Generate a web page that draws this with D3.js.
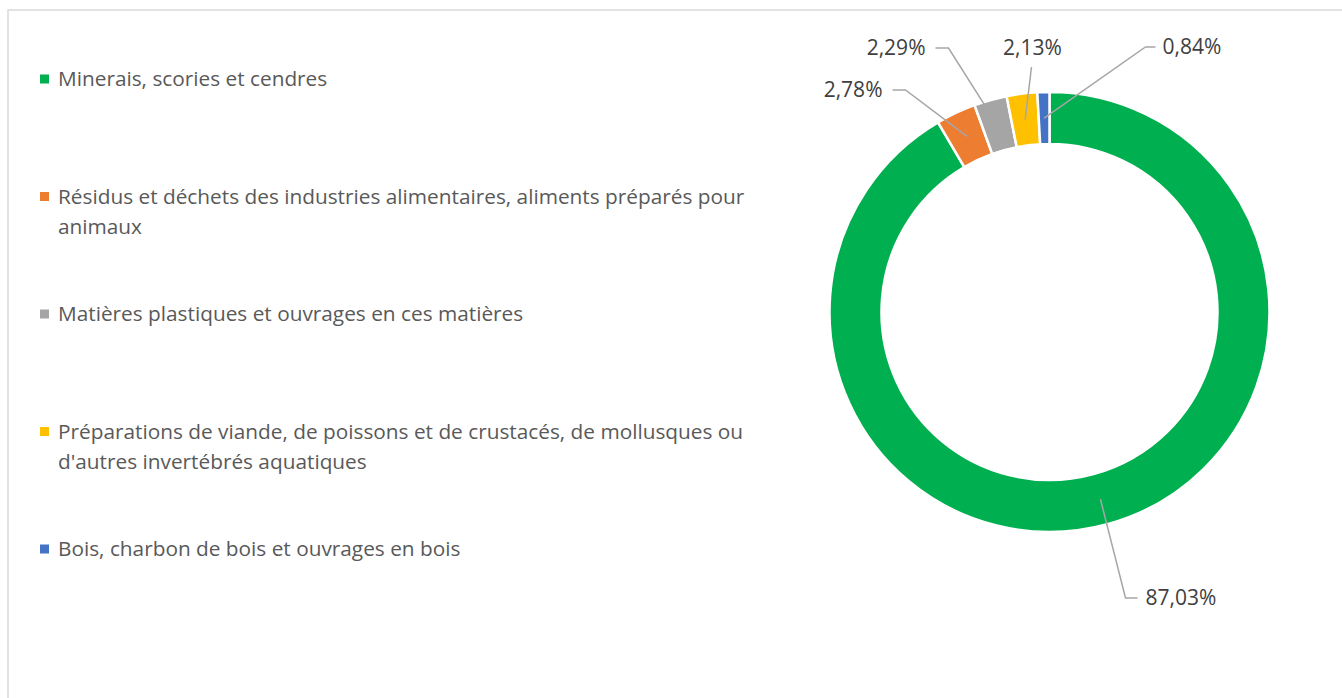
<!DOCTYPE html>
<html>
<head>
<meta charset="utf-8">
<script src="https://cdn.jsdelivr.net/npm/d3@7"></script>
<style>
  body { margin: 0; background: #fff; }
  svg { display: block; font-family: "Open Sans", sans-serif; }
</style>
</head>
<body>
<div id="chart"></div>
<script>
// categories (legend lines already wrapped as in the original)
const categories = [
  ["Minerais, scories et cendres"],
  ["Résidus et déchets des industries alimentaires, aliments préparés pour", "animaux"],
  ["Matières plastiques et ouvrages en ces matières"],
  ["Préparations de viande, de poissons et de crustacés, de mollusques ou", "d'autres invertébrés aquatiques"],
  ["Bois, charbon de bois et ouvrages en bois"]
];
const shares = [87.03, 2.78, 2.29, 2.13, 0.84];
const valueLabels = ["87,03%", "2,78%", "2,29%", "2,13%", "0,84%"];
const colors = ["#00b050", "#ed7d31", "#a5a5a5", "#ffc000", "#4472c4"];

const W = 1342, H = 698;
const cx = 1049.5, cy = 312;
const outerR = 220, innerR = 168;

// label text anchor positions (relative to donut centre) and leader elbows
const labelLayout = [
  { tx: 96,  ty: 286, anchor: "start",  elbow: [76, 286],  end: [88, 286] },
  { tx: -167, ty: -222, anchor: "end", elbow: [-144, -222], end: [-157, -222] },
  { tx: -124, ty: -264, anchor: "end", elbow: [-101, -264], end: [-114, -264] },
  { tx: -17, ty: -264, anchor: "middle", elbow: null, end: [-18, -245] },
  { tx: 113, ty: -265, anchor: "start", elbow: [96, -265], end: [106, -265] }
];

const svg = d3.select("#chart").append("svg")
  .attr("width", W)
  .attr("height", H);

// chart frame
svg.append("rect")
  .attr("x", 8).attr("y", 10)
  .attr("width", W + 10).attr("height", H + 10)
  .attr("fill", "none")
  .attr("stroke", "#d9d9d9")
  .attr("stroke-width", 1.5);

const data = shares.map((v, i) => ({ value: v, i }));

const pie = d3.pie().value(d => d.value).sort(null);
const arc = d3.arc().innerRadius(innerR).outerRadius(outerR);
const arcs = pie(data);

const g = svg.append("g").attr("transform", `translate(${cx},${cy})`);

g.selectAll("path.slice")
  .data(arcs)
  .enter()
  .append("path")
  .attr("class", "slice")
  .attr("d", arc)
  .attr("fill", d => colors[d.data.i])
  .attr("stroke", "#fff")
  .attr("stroke-width", 2.5);

// leader lines
g.selectAll("polyline.leader")
  .data(arcs)
  .enter()
  .append("polyline")
  .attr("class", "leader")
  .attr("points", d => {
    const c = arc.centroid(d);
    const l = labelLayout[d.data.i];
    const pts = [c];
    if (l.elbow) pts.push(l.elbow);
    pts.push(l.end);
    return pts.map(p => p.join(",")).join(" ");
  })
  .attr("fill", "none")
  .attr("stroke", "#a6a6a6")
  .attr("stroke-width", 1.5);

g.selectAll("text.value")
  .data(arcs)
  .enter()
  .append("text")
  .attr("class", "value")
  .attr("x", d => labelLayout[d.data.i].tx)
  .attr("y", d => labelLayout[d.data.i].ty)
  .attr("dy", "0.35em")
  .attr("text-anchor", d => labelLayout[d.data.i].anchor)
  .attr("font-size", 21)
  .attr("fill", "#404040")
  .text(d => valueLabels[d.data.i]);

// legend
const legendY = d3.scalePoint()
  .domain(d3.range(categories.length))
  .range([79, 549]);

const legend = svg.append("g")
  .selectAll("g")
  .data(categories)
  .enter()
  .append("g")
  .attr("transform", (d, i) => `translate(0,${legendY(i)})`);

legend.append("rect")
  .attr("x", 40).attr("y", -4.5)
  .attr("width", 9).attr("height", 9)
  .attr("fill", (d, i) => colors[i]);

legend.append("text")
  .attr("x", 58)
  .attr("font-size", 20.8)
  .attr("fill", "#595959")
  .selectAll("tspan")
  .data(d => d)
  .enter()
  .append("tspan")
  .attr("x", 58)
  .attr("y", (d, j) => j * 30)
  .attr("dy", "0.35em")
  .text(d => d);
</script>
</body>
</html>
